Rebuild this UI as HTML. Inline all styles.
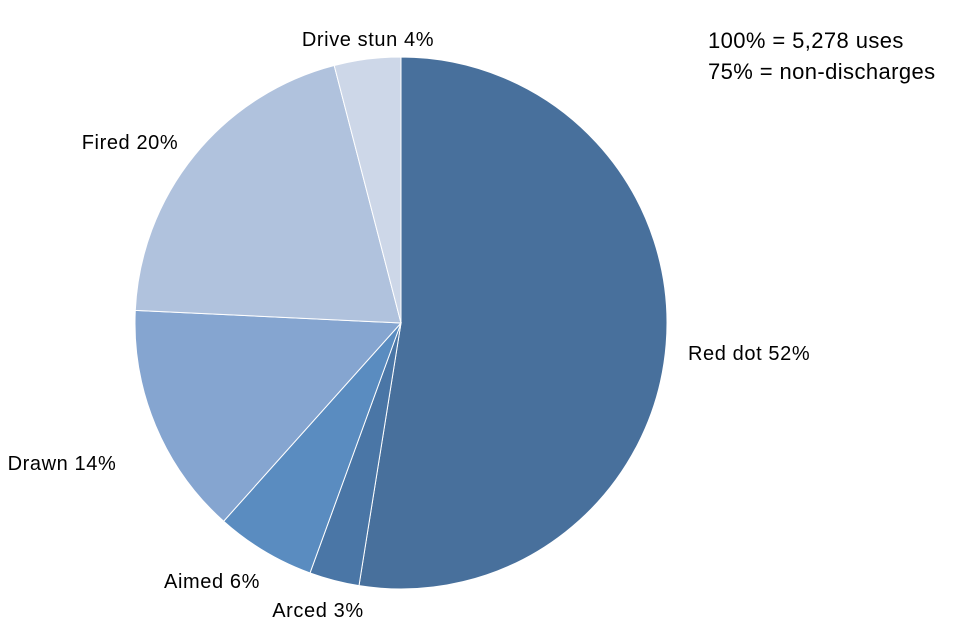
<!DOCTYPE html>
<html><head><meta charset="utf-8"><style>
body{margin:0;background:#fff;}
svg{display:block;font-family:"Liberation Sans",Arial,sans-serif;}
</style></head><body>
<svg id="chart" width="960" height="640" viewBox="0 0 960 640">
<g id="slices"></g>
<g id="labels"></g>
<text x="708" y="48" font-size="22" letter-spacing="0.4" fill="#000">100% = 5,278 uses</text>
<text x="708" y="79" font-size="22" letter-spacing="0.4" fill="#000">75% = non-discharges</text>
</svg>
<script>
const categories = ["Red dot","Arced","Aimed","Drawn","Fired","Drive stun"];
const values = [52,3,6,14,20,4];
const colors = ["#48709c","#4a76a6","#5a8cc0","#85a5d0","#b0c2dd","#cdd7e8"];
const labelPos = [[688,360,"start"],[318,617,"middle"],[212,588,"middle"],[62,470,"middle"],[130,149,"middle"],[368,46,"middle"]];
const cx=401, cy=323, r=266;
const total = values.reduce((a,b)=>a+b,0);
const NS="http://www.w3.org/2000/svg";
const gs=document.getElementById('slices'), gl=document.getElementById('labels');
let a0=0;
values.forEach((v,i)=>{
  const a1=a0+v/total*2*Math.PI;
  const x0=cx+r*Math.sin(a0), y0=cy-r*Math.cos(a0);
  const x1=cx+r*Math.sin(a1), y1=cy-r*Math.cos(a1);
  const large=(a1-a0)>Math.PI?1:0;
  const p=document.createElementNS(NS,'path');
  p.setAttribute('d',`M${cx},${cy}L${x0},${y0}A${r},${r} 0 ${large} 1 ${x1},${y1}Z`);
  p.setAttribute('fill',colors[i]);
  p.setAttribute('stroke','#fff');
  p.setAttribute('stroke-width','1');
  
  
  gs.appendChild(p);
  const t=document.createElementNS(NS,'text');
  t.setAttribute('x',labelPos[i][0]);t.setAttribute('y',labelPos[i][1]);
  t.setAttribute('text-anchor',labelPos[i][2]);
  t.setAttribute('font-size','20');
  t.setAttribute('letter-spacing','0.6');
  t.textContent=categories[i]+' '+v+'%';
  
  
  gl.appendChild(t);
  a0=a1;
});
</script>
</body></html>
